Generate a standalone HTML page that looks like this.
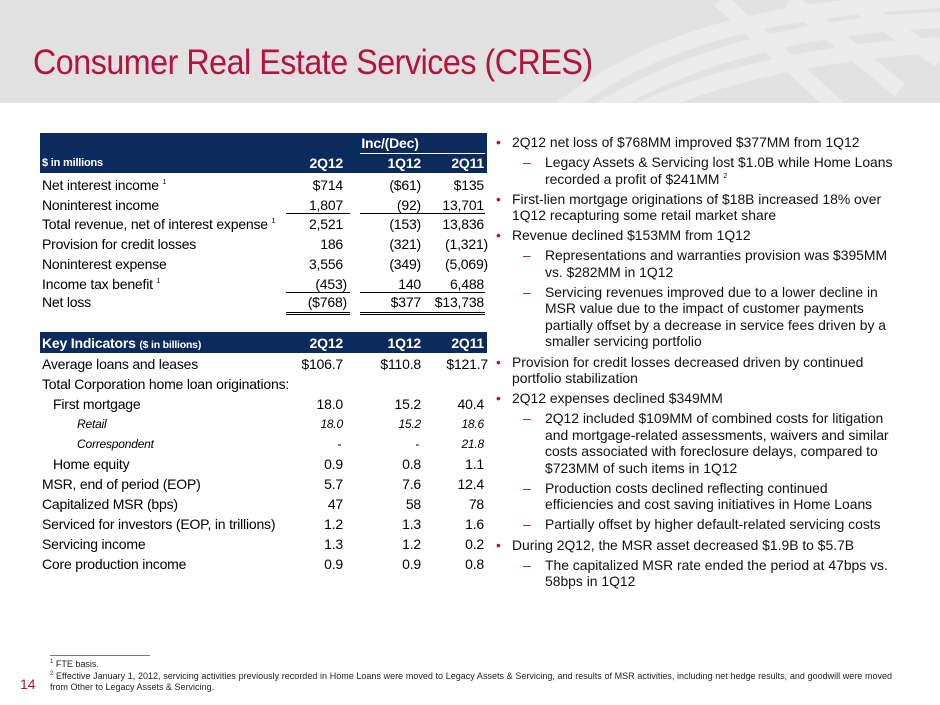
<!DOCTYPE html>
<html><head><meta charset="utf-8"><style>
*{margin:0;padding:0;box-sizing:border-box}
body{width:940px;height:705px;position:relative;overflow:hidden;background:#fff;font-family:"Liberation Sans",Arial,sans-serif;color:#000}
.hdr{position:absolute;left:0;top:0;width:940px;height:103px;background:#e1e1e1;overflow:hidden}
.title{position:absolute;left:33px;top:43px;font-size:35px;color:#b5123e;letter-spacing:-0.5px;transform:scaleX(0.92);transform-origin:left}
.bar{position:absolute;left:40px;width:447px;background:#0b2b5c;color:#fff;font-weight:bold}
.t{position:absolute;font-size:14px;line-height:20px;height:20px;white-space:nowrap;letter-spacing:-0.2px}
.c{position:absolute;font-size:14px;line-height:20px;white-space:nowrap;text-align:right;letter-spacing:-0.2px}
.i{font-style:italic;font-size:12px}
.ln{position:absolute;height:1px;background:#000}
sup{font-size:7px;vertical-align:6px;line-height:0}
.bl{position:absolute;left:496px;top:134px;width:398px;font-size:13.9px;line-height:16.5px;color:#111}
.bl div{position:relative;margin-bottom:3.6px}
.b{padding-left:16px}
.b:before{content:"•";color:#b5123e;position:absolute;left:0;top:0}
.s{padding-left:49px}
.s:before{content:"–";color:#b5123e;position:absolute;left:27px;top:0}
.fn{position:absolute;left:50px;font-size:9px;color:#222;line-height:11px}
.fn sup{font-size:6px;vertical-align:4px}
</style></head><body>
<div class="hdr">
<svg width="940" height="103" style="position:absolute;left:0;top:0">
<g fill="none" stroke="#ebebeb" stroke-width="16">
<path d="M560 110 C650 40 760 10 940 0"/>
<path d="M600 110 C700 50 820 25 940 20"/>
<path d="M640 110 C730 70 840 50 940 45"/>
<path d="M720 0 L840 110"/>
<path d="M790 0 L900 90"/>
<path d="M850 0 L940 60"/>
</g></svg>
<div class="title">Consumer Real Estate Services (CRES)</div>
</div>

<div class="bar" style="top:133px;height:40px"></div>
<div class="c" style="color:#fff;font-weight:bold;right:505px;top:133px;width:90px;text-align:center">Inc/(Dec)</div>
<div class="ln" style="left:360px;width:125px;top:153px;background:#fff"></div>
<div class="t" style="left:42px;top:153px;color:#fff;font-weight:bold;font-size:11px">$ in millions</div>
<div class="c" style="right:597px;top:153px;color:#fff;font-weight:bold">2Q12</div>
<div class="c" style="right:519px;top:153px;color:#fff;font-weight:bold">1Q12</div>
<div class="c" style="right:456px;top:153px;color:#fff;font-weight:bold">2Q11</div>

<div class="t" style="left:42px;top:175px">Net interest income <sup>1</sup></div>
<div class="c" style="right:597px;top:175px">$714</div><div class="c" style="right:519px;top:175px">($61)</div><div class="c" style="right:456px;top:175px">$135</div>
<div class="t" style="left:42px;top:195px">Noninterest income</div>
<div class="c" style="right:597px;top:195px">1,807</div><div class="c" style="right:519px;top:195px">(92)</div><div class="c" style="right:456px;top:195px">13,701</div>
<div class="ln" style="left:286px;width:64px;top:213px"></div><div class="ln" style="left:360px;width:125px;top:213px"></div>
<div class="t" style="left:42px;top:214px">Total revenue, net of interest expense <sup>1</sup></div>
<div class="c" style="right:597px;top:214px">2,521</div><div class="c" style="right:519px;top:214px">(153)</div><div class="c" style="right:456px;top:214px">13,836</div>
<div class="t" style="left:42px;top:234px">Provision for credit losses</div>
<div class="c" style="right:597px;top:234px">186</div><div class="c" style="right:519px;top:234px">(321)</div><div class="c" style="right:452px;top:234px">(1,321)</div>
<div class="t" style="left:42px;top:254px">Noninterest expense</div>
<div class="c" style="right:597px;top:254px">3,556</div><div class="c" style="right:519px;top:254px">(349)</div><div class="c" style="right:452px;top:254px">(5,069)</div>
<div class="t" style="left:42px;top:274px">Income tax benefit <sup>1</sup></div>
<div class="c" style="right:593px;top:274px">(453)</div><div class="c" style="right:519px;top:274px">140</div><div class="c" style="right:456px;top:274px">6,488</div>
<div class="ln" style="left:286px;width:64px;top:292px"></div><div class="ln" style="left:360px;width:125px;top:292px"></div>
<div class="t" style="left:42px;top:292px">Net loss</div>
<div class="c" style="right:593px;top:292px">($768)</div><div class="c" style="right:519px;top:292px">$377</div><div class="c" style="right:456px;top:292px">$13,738</div>
<div class="ln" style="left:286px;width:64px;top:312px"></div><div class="ln" style="left:360px;width:125px;top:312px"></div>
<div class="ln" style="left:286px;width:64px;top:314px"></div><div class="ln" style="left:360px;width:125px;top:314px"></div>

<div class="bar" style="top:332px;height:21px"></div>
<div class="t" style="left:42px;top:333px;color:#fff;font-weight:bold">Key Indicators <span style="font-size:10.5px">($ in billions)</span></div>
<div class="c" style="right:597px;top:333px;color:#fff;font-weight:bold">2Q12</div>
<div class="c" style="right:519px;top:333px;color:#fff;font-weight:bold">1Q12</div>
<div class="c" style="right:456px;top:333px;color:#fff;font-weight:bold">2Q11</div>

<div class="t" style="left:42px;top:354px">Average loans and leases</div>
<div class="c" style="right:597px;top:354px">$106.7</div><div class="c" style="right:519px;top:354px">$110.8</div><div class="c" style="right:452px;top:354px">$121.7</div>
<div class="t" style="left:42px;top:374px">Total Corporation home loan originations:</div>
<div class="t" style="left:53px;top:394px">First mortgage</div>
<div class="c" style="right:597px;top:394px">18.0</div><div class="c" style="right:519px;top:394px">15.2</div><div class="c" style="right:456px;top:394px">40.4</div>
<div class="t i" style="left:77px;top:414px">Retail</div>
<div class="c i" style="right:597px;top:414px">18.0</div><div class="c i" style="right:519px;top:414px">15.2</div><div class="c i" style="right:456px;top:414px">18.6</div>
<div class="t i" style="left:77px;top:434px">Correspondent</div>
<div class="c i" style="right:599px;top:434px">-</div><div class="c i" style="right:521px;top:434px">-</div><div class="c i" style="right:456px;top:434px">21.8</div>
<div class="t" style="left:53px;top:454px">Home equity</div>
<div class="c" style="right:597px;top:454px">0.9</div><div class="c" style="right:519px;top:454px">0.8</div><div class="c" style="right:456px;top:454px">1.1</div>
<div class="t" style="left:42px;top:474px">MSR, end of period (EOP)</div>
<div class="c" style="right:597px;top:474px">5.7</div><div class="c" style="right:519px;top:474px">7.6</div><div class="c" style="right:456px;top:474px">12.4</div>
<div class="t" style="left:42px;top:494px">Capitalized MSR (bps)</div>
<div class="c" style="right:597px;top:494px">47</div><div class="c" style="right:519px;top:494px">58</div><div class="c" style="right:456px;top:494px">78</div>
<div class="t" style="left:42px;top:514px">Serviced for investors (EOP, in trillions)</div>
<div class="c" style="right:597px;top:514px">1.2</div><div class="c" style="right:519px;top:514px">1.3</div><div class="c" style="right:456px;top:514px">1.6</div>
<div class="t" style="left:42px;top:534px">Servicing income</div>
<div class="c" style="right:597px;top:534px">1.3</div><div class="c" style="right:519px;top:534px">1.2</div><div class="c" style="right:456px;top:534px">0.2</div>
<div class="t" style="left:42px;top:554px">Core production income</div>
<div class="c" style="right:597px;top:554px">0.9</div><div class="c" style="right:519px;top:554px">0.9</div><div class="c" style="right:456px;top:554px">0.8</div>

<div class="bl">
<div class="b">2Q12 net loss of $768MM improved $377MM from 1Q12</div>
<div class="s">Legacy Assets &amp; Servicing lost $1.0B while Home Loans recorded a profit of $241MM <sup>2</sup></div>
<div class="b">First-lien mortgage originations of $18B increased 18% over 1Q12 recapturing some retail market share</div>
<div class="b">Revenue declined $153MM from 1Q12</div>
<div class="s">Representations and warranties provision was $395MM vs. $282MM in 1Q12</div>
<div class="s">Servicing revenues improved due to a lower decline in MSR value due to the impact of customer payments partially offset by a decrease in service fees driven by a smaller servicing portfolio</div>
<div class="b">Provision for credit losses decreased driven by continued portfolio stabilization</div>
<div class="b">2Q12 expenses declined $349MM</div>
<div class="s">2Q12 included $109MM of combined costs for litigation and mortgage-related assessments, waivers and similar costs associated with foreclosure delays, compared to $723MM of such items in 1Q12</div>
<div class="s">Production costs declined reflecting continued efficiencies and cost saving initiatives in Home Loans</div>
<div class="s">Partially offset by higher default-related servicing costs</div>
<div class="b">During 2Q12, the MSR asset decreased $1.9B to $5.7B</div>
<div class="s">The capitalized MSR rate ended the period at 47bps vs. 58bps in 1Q12</div>
</div>

<div class="ln" style="left:50px;width:100px;top:655px;background:#777"></div>
<div class="fn" style="top:659px"><sup>1</sup> FTE basis.</div>
<div class="fn" style="top:671px;width:842px;text-align:justify"><sup>2</sup> Effective January 1, 2012, servicing activities previously recorded in Home Loans were moved to Legacy Assets &amp; Servicing, and results of MSR activities, including net hedge results, and goodwill were moved from Other to Legacy Assets &amp; Servicing.</div>
<div style="position:absolute;left:20px;top:676px;font-size:14px;color:#b5123e">14</div>
</body></html>
